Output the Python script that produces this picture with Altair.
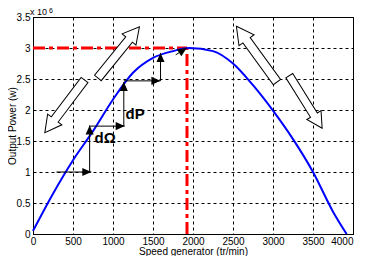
import altair as alt
import pandas as pd

# Curve: speed (tr/min) vs output power (x 1e6 W)
speed = [0, 250, 500, 750, 1000, 1250, 1500, 1750, 1950, 2250, 2500, 2750, 3000, 3250, 3500, 3750, 3920]
power = [0.05, 0.65, 1.19, 1.66, 2.17, 2.6, 2.84, 2.95, 3.0, 2.95, 2.75, 2.4, 1.99, 1.53, 1.0, 0.36, 0.0]

# Optimal point (red dash-dot)
opt_speed = 1925
opt_power = 3.0

# Staircase arrows (dΩ / dP steps)
seg_x1 = [292, 708, 708, 1135, 1135, 1594, 1784]
seg_y1 = [1.0, 1.0, 1.74, 1.74, 2.47, 2.47, 2.89]
seg_x2 = [729, 708, 1146, 1135, 1592, 1594, 1921]
seg_y2 = [1.0, 1.75, 1.74, 2.45, 2.47, 2.92, 3.0]
seg_angle = [90, 0, 90, 0, 90, 0, 57]

# Hollow block arrows
blk_x = [396, 1071, 2796, 3409]
blk_y = [2.06, 2.93, 2.90, 2.13]
blk_angle = [217, 39, 324, 148]
blk_len = [66, 66, 69, 62]

# Labels
lab_text = ["dΩ", "dP"]
lab_x = [902, 1277]
lab_y = [1.55, 1.94]

x_ticks = [0, 500, 1000, 1500, 2000, 2500, 3000, 3500, 4000]
y_ticks = [0, 0.5, 1, 1.5, 2, 2.5, 3, 3.5]

FONT = "Liberation Sans"
W, H = 320, 217

curve_df = pd.DataFrame({"speed": speed, "power": power})
seg_df = pd.DataFrame({"x1": seg_x1, "y1": seg_y1, "x2": seg_x2, "y2": seg_y2, "a": seg_angle})
blk_df = pd.DataFrame({"x": blk_x, "y": blk_y, "a": blk_angle,
                       "s": [l * l for l in blk_len]})
lab_df = pd.DataFrame({"t": lab_text, "x": lab_x, "y": lab_y})
opt_df = pd.DataFrame({"x0": [0], "x": [opt_speed], "y0": [0], "y": [opt_power]})

xs = alt.Scale(domain=[0, 4000], nice=False, zero=False)
ys = alt.Scale(domain=[0, 3.5], nice=False, zero=False)

x_axis = alt.Axis(values=x_ticks, labelExpr="format(datum.value, 'd')",
                  title="Speed generator (tr/min)",
                  grid=True, gridColor="black", gridDash=[3, 3], gridOpacity=1, gridWidth=1,
                  ticks=False, labelPadding=2, labelFont=FONT, labelFontSize=10,
                  labelColor="black", titleFont=FONT, titleFontSize=10,
                  titleFontWeight="normal", titleColor="black", titleY=12,
                  titleBaseline="top",
                  labelAlign={"condition": {"test": "datum.value == 4000", "value": "right"},
                              "value": "center"},
                  domainColor="black", labelFlush=False, labelOverlap=False)
y_axis = alt.Axis(values=y_ticks, labelExpr="format(datum.value, '~g')",
                  title="Output Power (w)",
                  grid=True, gridColor="black", gridDash=[3, 3], gridOpacity=1, gridWidth=1,
                  ticks=False, labelPadding=3, labelFont=FONT, labelFontSize=10,
                  labelColor="black", titleFont=FONT, titleFontSize=10,
                  titleFontWeight="normal", titleColor="black",
                  titleX=-26, titleY=H / 2, titleAngle=270, titleBaseline="top",
                  titleAlign="center",
                  domainColor="black", labelFlush=False, labelOverlap=False)


def X(f):
    return alt.X(f, type="quantitative", scale=xs, axis=x_axis)


def Y(f):
    return alt.Y(f, type="quantitative", scale=ys, axis=y_axis)


dash = [12, 4, 4, 4]
red_h = alt.Chart(opt_df).mark_rule(color="#ff0000", strokeWidth=3, strokeDash=dash).encode(
    x=X("x0"), x2="x:Q", y=Y("y"))
red_v = alt.Chart(opt_df).mark_rule(color="#ff0000", strokeWidth=3, strokeDash=dash).encode(
    x=X("x"), y=Y("y0"), y2="y:Q")

curve = alt.Chart(curve_df).mark_line(color="#0000ff", strokeWidth=2,
                                      interpolate="monotone").encode(x=X("speed"), y=Y("power"))

segs = alt.Chart(seg_df).mark_rule(color="black", strokeWidth=1).encode(
    x=X("x1"), x2="x2:Q", y=Y("y1"), y2="y2:Q")

heads = alt.Chart(seg_df).mark_point(
    shape="M0,0 L0.45,1 L-0.45,1 Z", filled=True, color="black", opacity=1, size=324
).encode(x=X("x2"), y=Y("y2"), angle=alt.Angle("a:Q", scale=None))

blocks = alt.Chart(blk_df).mark_point(
    shape="M0,-1 L0.27,-0.5 L0.13,-0.5 L0.13,1 L-0.13,1 L-0.13,-0.5 L-0.27,-0.5 Z",
    filled=True, fill="white", stroke="black", strokeWidth=1, opacity=1,
    fillOpacity=1, strokeOpacity=1
).encode(x=X("x"), y=Y("y"),
         angle=alt.Angle("a:Q", scale=None), size=alt.Size("s:Q", scale=None))

labels = alt.Chart(lab_df).mark_text(font=FONT, fontSize=15, fontWeight="bold",
                                     color="black", align="center", baseline="middle").encode(
    x=X("x"), y=Y("y"), text="t:N")

mult = alt.Chart(pd.DataFrame({"t": ["x 10"]})).mark_text(
    font=FONT, fontSize=9, color="black", align="left", baseline="alphabetic").encode(
    x=alt.value(-3), y=alt.value(-2), text="t:N")
mult_exp = alt.Chart(pd.DataFrame({"t": ["6"]})).mark_text(
    font=FONT, fontSize=7, color="black", align="left", baseline="alphabetic").encode(
    x=alt.value(16), y=alt.value(-4), text="t:N")

chart = alt.layer(red_h, red_v, curve, segs, heads, blocks, labels, mult, mult_exp).properties(
    width=W, height=H,
    autosize=alt.AutoSizeParams(type="none"),
    padding={"left": 25, "top": 9, "right": 4, "bottom": 22},
    background="white",
).configure_view(stroke="black", strokeWidth=1)

chart.save("out.html", embed_options={"renderer": "svg", "actions": False})
